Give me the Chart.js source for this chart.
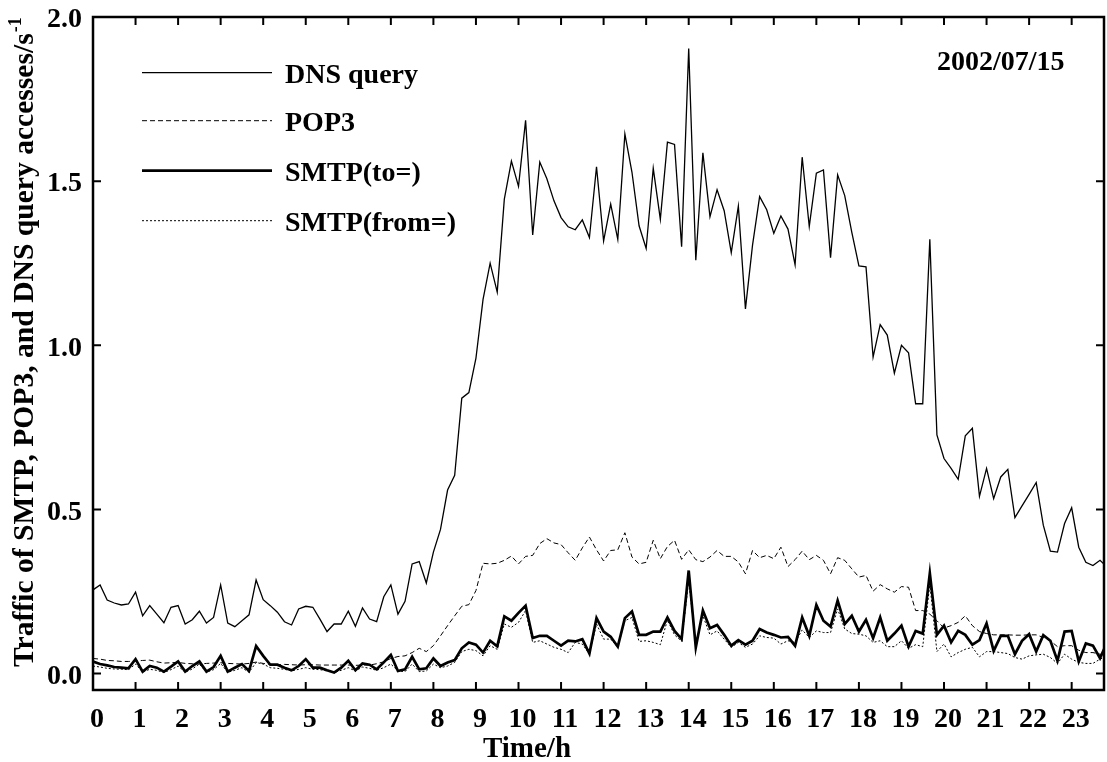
<!DOCTYPE html>
<html><head><meta charset="utf-8">
<script src="https://cdn.jsdelivr.net/npm/chart.js@4.4.1/dist/chart.umd.min.js"></script>
<style>html,body{margin:0;padding:0;background:#fff;}#wrap{width:1107px;height:762px;position:relative;}</style>
</head><body><div id="wrap"><canvas id="c"></canvas></div>
<script>
// sampling times (minutes after midnight, every 10 min)
const timeMin = [
  0,10,20,30,40,50,60,70,80,90,100,110,
  120,130,140,150,160,170,180,190,200,210,220,230,
  240,250,260,270,280,290,300,310,320,330,340,350,
  360,370,380,390,400,410,420,430,440,450,460,470,
  480,490,500,510,520,530,540,550,560,570,580,590,
  600,610,620,630,640,650,660,670,680,690,700,710,
  720,730,740,750,760,770,780,790,800,810,820,830,
  840,850,860,870,880,890,900,910,920,930,940,950,
  960,970,980,990,1000,1010,1020,1030,1040,1050,1060,1070,
  1080,1090,1100,1110,1120,1130,1140,1150,1160,1170,1180,1190,
  1200,1210,1220,1230,1240,1250,1260,1270,1280,1290,1300,1310,
  1320,1330,1340,1350,1360,1370,1380,1390,1400,1410,1420,1430
];
const dnsQuery = [
  0.255,0.270,0.224,0.215,0.209,0.212,0.248,0.176,0.207,0.181,0.155,0.202,
  0.207,0.151,0.164,0.190,0.154,0.171,0.270,0.154,0.143,0.161,0.179,0.285,
  0.225,0.207,0.187,0.158,0.148,0.197,0.205,0.202,0.166,0.128,0.151,0.151,
  0.190,0.144,0.200,0.166,0.158,0.234,0.270,0.181,0.220,0.334,0.341,0.276,
  0.370,0.439,0.559,0.604,0.839,0.856,0.961,1.140,1.250,1.162,1.445,1.561,
  1.484,1.685,1.336,1.558,1.507,1.440,1.389,1.361,1.352,1.382,1.328,1.544,
  1.318,1.430,1.323,1.644,1.527,1.364,1.295,1.539,1.384,1.619,1.612,1.300,
  1.904,1.259,1.586,1.392,1.474,1.410,1.282,1.424,1.111,1.305,1.453,1.413,
  1.341,1.394,1.354,1.245,1.573,1.362,1.524,1.534,1.267,1.519,1.456,1.344,
  1.242,1.239,0.964,1.063,1.031,0.915,1.000,0.977,0.822,0.822,1.323,0.727,
  0.655,0.625,0.592,0.724,0.747,0.540,0.625,0.533,0.599,0.622,0.475,0.511,
  0.546,0.582,0.452,0.373,0.370,0.457,0.505,0.385,0.339,0.329,0.345,0.324
];
const pop3 = [
  0.046,0.044,0.040,0.039,0.037,0.037,0.038,0.040,0.041,0.036,0.032,0.033,
  0.034,0.031,0.030,0.029,0.031,0.032,0.033,0.031,0.030,0.029,0.031,0.035,
  0.031,0.028,0.027,0.028,0.027,0.026,0.027,0.027,0.026,0.026,0.026,0.026,
  0.026,0.025,0.026,0.026,0.030,0.036,0.046,0.052,0.054,0.064,0.077,0.067,
  0.085,0.115,0.146,0.176,0.205,0.210,0.253,0.336,0.334,0.336,0.345,0.358,
  0.334,0.357,0.360,0.396,0.411,0.398,0.393,0.368,0.345,0.383,0.416,0.377,
  0.343,0.375,0.377,0.429,0.355,0.334,0.339,0.406,0.350,0.387,0.406,0.348,
  0.377,0.347,0.341,0.355,0.375,0.357,0.357,0.340,0.304,0.375,0.353,0.360,
  0.350,0.385,0.326,0.347,0.373,0.347,0.360,0.345,0.304,0.353,0.345,0.319,
  0.294,0.299,0.251,0.271,0.258,0.248,0.265,0.263,0.192,0.192,0.181,0.161,
  0.139,0.146,0.156,0.176,0.146,0.128,0.122,0.118,0.118,0.118,0.117,0.117,
  0.118,0.118,0.110,0.100,0.082,0.085,0.085,0.071,0.064,0.064,0.059,0.054
];
const smtpTo = [
  0.037,0.029,0.025,0.020,0.018,0.016,0.044,0.006,0.023,0.018,0.006,0.021,
  0.037,0.006,0.023,0.037,0.006,0.020,0.054,0.006,0.018,0.029,0.008,0.084,
  0.054,0.027,0.027,0.018,0.010,0.023,0.044,0.018,0.018,0.010,0.003,0.018,
  0.039,0.010,0.031,0.027,0.013,0.034,0.057,0.008,0.013,0.051,0.013,0.016,
  0.046,0.023,0.034,0.041,0.077,0.095,0.088,0.064,0.100,0.083,0.174,0.161,
  0.185,0.207,0.108,0.115,0.115,0.100,0.085,0.100,0.098,0.105,0.061,0.169,
  0.128,0.112,0.082,0.169,0.189,0.118,0.118,0.128,0.128,0.171,0.130,0.105,
  0.314,0.080,0.192,0.138,0.148,0.118,0.085,0.102,0.088,0.100,0.136,0.125,
  0.118,0.110,0.112,0.085,0.171,0.115,0.209,0.161,0.143,0.222,0.151,0.176,
  0.128,0.164,0.108,0.171,0.100,0.122,0.146,0.082,0.130,0.122,0.306,0.118,
  0.146,0.095,0.130,0.118,0.088,0.102,0.153,0.069,0.115,0.115,0.059,0.100,
  0.120,0.067,0.117,0.100,0.039,0.128,0.130,0.037,0.092,0.085,0.047,0.095
];
const smtpFrom = [
  0.023,0.020,0.016,0.014,0.013,0.012,0.029,0.005,0.013,0.010,0.003,0.012,
  0.023,0.004,0.014,0.029,0.004,0.012,0.031,0.004,0.010,0.018,0.004,0.034,
  0.029,0.018,0.016,0.013,0.008,0.013,0.018,0.013,0.012,0.008,0.003,0.010,
  0.018,0.008,0.020,0.016,0.010,0.018,0.029,0.008,0.006,0.029,0.006,0.008,
  0.029,0.018,0.023,0.034,0.067,0.074,0.070,0.054,0.085,0.074,0.151,0.141,
  0.156,0.192,0.095,0.100,0.090,0.080,0.074,0.064,0.095,0.090,0.059,0.151,
  0.105,0.105,0.080,0.161,0.171,0.098,0.100,0.095,0.088,0.163,0.118,0.098,
  0.283,0.090,0.176,0.118,0.130,0.105,0.080,0.095,0.080,0.090,0.115,0.110,
  0.108,0.090,0.100,0.095,0.133,0.110,0.130,0.125,0.125,0.197,0.136,0.122,
  0.120,0.115,0.095,0.100,0.082,0.082,0.100,0.077,0.088,0.082,0.273,0.067,
  0.090,0.051,0.064,0.074,0.080,0.051,0.067,0.067,0.064,0.061,0.049,0.044,
  0.054,0.057,0.059,0.049,0.031,0.059,0.044,0.034,0.031,0.031,0.044,0.054
];
const xTickHours = [0,1,2,3,4,5,6,7,8,9,10,11,12,13,14,15,16,17,18,19,20,21,22,23];
const yTickValues = [0.0,0.5,1.0,1.5,2.0];
const seriesLabels = ['DNS query','POP3','SMTP(to=)','SMTP(from=)'];
const dateLabel = '2002/07/15';
const xTitle = 'Time/h';
const yTitle = 'Traffic of SMTP, POP3, and DNS query accesses/s';
const yTitleSup = '-1';

const FAM = '"Liberation Serif","Times New Roman",serif';
function pts(arr){ return arr.map((v,i)=>({x: timeMin[i]/60, y: v})); }

const decor = {
  id: 'decor',
  afterDatasetsDraw(chart){
    const {ctx, chartArea:a, scales:{x, y}} = chart;
    ctx.save();
    ctx.strokeStyle = '#000'; ctx.fillStyle = '#000';
    ctx.setLineDash([]);
    ctx.lineWidth = 2;
    ctx.beginPath();
    x.ticks.forEach(t => {
      const px = x.getPixelForValue(t.value);
      if (px <= a.left + 1) return;
      ctx.moveTo(px, a.bottom); ctx.lineTo(px, a.bottom - 8);
      ctx.moveTo(px, a.top); ctx.lineTo(px, a.top + 8);
    });
    y.ticks.forEach(t => {
      const py = y.getPixelForValue(t.value);
      if (py <= a.top + 1) return;
      ctx.moveTo(a.left, py); ctx.lineTo(a.left + 8, py);
      ctx.moveTo(a.right, py); ctx.lineTo(a.right - 8, py);
    });
    ctx.stroke();
    ctx.lineWidth = 2.5;
    ctx.strokeRect(a.left, a.top, a.right - a.left, a.bottom - a.top);

    // legend
    const rows = [72.7, 120.7, 170.7, 220.7];
    ctx.font = 'bold 28px ' + FAM;
    ctx.textAlign = 'left'; ctx.textBaseline = 'alphabetic';
    chart.data.datasets.forEach((ds, i) => {
      ctx.lineWidth = ds.borderWidth;
      ctx.setLineDash(ds.borderDash || []);
      ctx.beginPath(); ctx.moveTo(142, rows[i]); ctx.lineTo(272, rows[i]); ctx.stroke();
      ctx.fillText(ds.label, 285, rows[i] + 10);
    });
    ctx.setLineDash([]);
    ctx.fillText(dateLabel, 937, 70);

    // x title
    ctx.font = 'bold 29px ' + FAM;
    ctx.textAlign = 'center';
    ctx.fillText(xTitle, 527, 757);

    // y title (rotated)
    ctx.translate(33, 667);
    ctx.rotate(-Math.PI/2);
    ctx.textAlign = 'left';
    ctx.font = 'bold 29.6px ' + FAM;
    ctx.fillText(yTitle, 0, 0);
    const w = ctx.measureText(yTitle).width;
    ctx.font = 'bold 18px ' + FAM;
    ctx.fillText(yTitleSup, w + 1, -12);
    ctx.restore();
  }
};

new Chart(document.getElementById('c'), {
  type: 'line',
  data: {
    datasets: [
      {label: seriesLabels[0], data: pts(dnsQuery), borderColor:'#000', borderWidth:1.3, pointRadius:0, tension:0, fill:false},
      {label: seriesLabels[1], data: pts(pop3), borderColor:'#000', borderWidth:1, borderDash:[5,3], pointRadius:0, tension:0, fill:false},
      {label: seriesLabels[2], data: pts(smtpTo), borderColor:'#000', borderWidth:2.7, pointRadius:0, tension:0, fill:false},
      {label: seriesLabels[3], data: pts(smtpFrom), borderColor:'#000', borderWidth:1, borderDash:[2,2], pointRadius:0, tension:0, fill:false}
    ]
  },
  options: {
    responsive: true, maintainAspectRatio: false, animation: false, devicePixelRatio: 1,
    layout: {padding: {left: 0, top: 17, right: 3, bottom: 0}},
    plugins: {legend: {display: false}, tooltip: {enabled: false}},
    scales: {
      x: {
        type: 'linear', min: 0, max: 23.76,
        afterBuildTicks: s => { s.ticks = xTickHours.map(v => ({value: v})); },
        afterFit: s => { s.height = 72; s.paddingLeft = 0; s.paddingRight = 0; },
        grid: {display: false, drawTicks: false},
        border: {display: false},
        ticks: {color:'#000', padding: 13, maxRotation: 0, autoSkip: false, labelOffset: 4,
                font: {family: FAM, size: 28, weight: 'bold'},
                callback: v => String(v)}
      },
      y: {
        type: 'linear', min: -0.05, max: 2.0,
        afterBuildTicks: s => { s.ticks = yTickValues.map(v => ({value: v})); },
        afterFit: s => { s.width = 93; s.paddingTop = 0; s.paddingBottom = 0; },
        grid: {display: false, drawTicks: false},
        border: {display: false},
        ticks: {color:'#000', padding: 11, labelOffset: 3,
                font: {family: FAM, size: 28, weight: 'bold'},
                callback: v => Number(v).toFixed(1)}
      }
    }
  },
  plugins: [decor]
});
</script></body></html>
